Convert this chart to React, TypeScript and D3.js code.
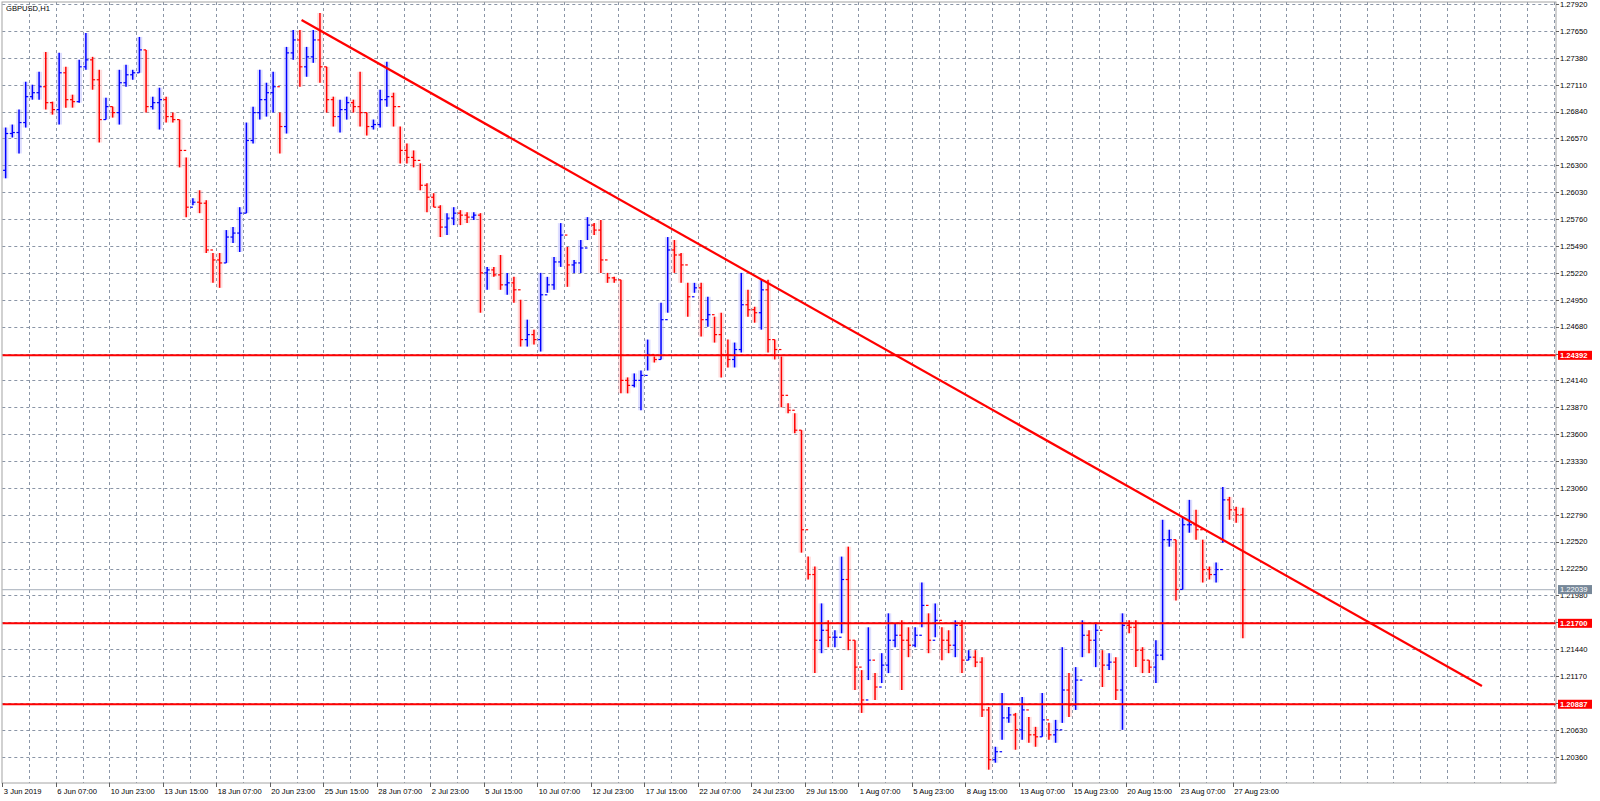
import React from 'react';
import * as d3 from 'd3';

const W = 1600;
const H = 801;
const symbol = 'GBPUSD,H1';

// Price data, aggregated 8 hourly bars per entry
const firstOpen = 1.2625;
const highs = [
  1.2668,1.2671,1.2686,1.2714,1.2711,1.2724,1.2744,1.2694,1.2743,1.2729,
  1.2701,1.2736,1.2763,1.2739,1.2726,1.2698,1.2689,1.2726,1.2731,1.2726,
  1.2759,1.2746,1.2699,1.2708,1.2699,1.2683,1.2676,1.2638,1.2597,1.2605,
  1.2595,1.2542,1.2542,1.2565,1.2568,1.2588,1.2673,1.2689,1.2726,1.2713,
  1.2724,1.2683,1.2749,1.2766,1.2766,1.2749,1.2766,1.2783,1.2729,1.2699,
  1.2696,1.2699,1.2696,1.2724,1.2683,1.2676,1.2706,1.2734,1.2703,1.2669,
  1.2652,1.2645,1.2632,1.2612,1.2602,1.2590,1.2582,1.2588,1.2585,1.2583,
  1.2583,1.2582,1.2528,1.2528,1.2540,1.2522,1.2518,1.2495,1.2475,1.2465,
  1.2522,1.2518,1.2538,1.2572,1.2548,1.2535,1.2555,1.2578,1.2572,1.2575,
  1.2522,1.2518,1.2515,1.2417,1.2421,1.2424,1.2455,1.2438,1.2492,1.2558,
  1.2555,1.2542,1.2512,1.2512,1.2512,1.2498,1.2478,1.2482,1.2455,1.2452,
  1.2522,1.2505,1.2488,1.2515,1.2515,1.2455,1.2438,1.2391,1.2381,1.2364,
  1.2237,1.2227,1.2190,1.2173,1.2163,1.2237,1.2247,1.2153,1.2123,1.2166,
  1.2120,1.2140,1.2180,1.2170,1.2173,1.2166,1.2166,1.2211,1.2180,1.2190,
  1.2166,1.2163,1.2173,1.2173,1.2143,1.2143,1.2136,1.2086,1.2046,1.2100,
  1.2086,1.2080,1.2096,1.2076,1.2066,1.2100,1.2070,1.2073,1.2146,1.2120,
  1.2126,1.2173,1.2163,1.2170,1.2143,1.2140,1.2136,1.2180,1.2173,1.2173,
  1.2146,1.2133,1.2153,1.2274,1.2264,1.2254,1.2277,1.2294,1.2284,1.2254,
  1.2227,1.2231,1.2307,1.2297,1.2287,1.2286,
];
const lows = [
  1.2617,1.2658,1.2642,1.2668,1.2696,1.2696,1.2686,1.2681,1.2671,1.2688,
  1.2688,1.2693,1.2726,1.2706,1.2653,1.2676,1.2678,1.2671,1.2709,1.2716,
  1.2723,1.2683,1.2686,1.2666,1.2673,1.2673,1.2628,1.2578,1.2590,1.2582,
  1.2542,1.2512,1.2507,1.2532,1.2552,1.2543,1.2582,1.2652,1.2676,1.2679,
  1.2683,1.2642,1.2662,1.2736,1.2709,1.2719,1.2733,1.2713,1.2683,1.2669,
  1.2663,1.2676,1.2683,1.2669,1.2660,1.2666,1.2668,1.2689,1.2669,1.2632,
  1.2632,1.2628,1.2605,1.2583,1.2588,1.2558,1.2560,1.2570,1.2570,1.2572,
  1.2575,1.2482,1.2505,1.2518,1.2505,1.2500,1.2492,1.2448,1.2448,1.2450,
  1.2443,1.2502,1.2505,1.2528,1.2508,1.2522,1.2522,1.2555,1.2560,1.2522,
  1.2512,1.2512,1.2401,1.2401,1.2407,1.2384,1.2424,1.2432,1.2435,1.2482,
  1.2522,1.2512,1.2478,1.2502,1.2458,1.2468,1.2452,1.2417,1.2427,1.2427,
  1.2442,1.2478,1.2472,1.2465,1.2442,1.2435,1.2387,1.2381,1.2361,1.2241,
  1.2214,1.2120,1.2140,1.2146,1.2146,1.2160,1.2143,1.2103,1.2080,1.2113,
  1.2093,1.2110,1.2120,1.2146,1.2103,1.2136,1.2146,1.2166,1.2140,1.2156,
  1.2133,1.2140,1.2136,1.2120,1.2133,1.2126,1.2076,1.2023,1.2030,1.2053,
  1.2070,1.2043,1.2053,1.2050,1.2046,1.2056,1.2053,1.2050,1.2070,1.2076,
  1.2083,1.2136,1.2140,1.2126,1.2106,1.2123,1.2093,1.2063,1.2160,1.2126,
  1.2120,1.2120,1.2110,1.2133,1.2247,1.2193,1.2204,1.2261,1.2254,1.2211,
  1.2214,1.2211,1.2251,1.2274,1.2271,1.2155,
];
const closes = [
  1.2662,1.2663,1.2673,1.2699,1.2703,1.2709,1.2693,1.2686,1.2723,1.2696,
  1.2694,1.2729,1.2736,1.2716,1.2676,1.2689,1.2683,1.2713,1.2721,1.2723,
  1.2746,1.2689,1.2693,1.2696,1.2679,1.2676,1.2645,1.2588,1.2593,1.2592,
  1.2545,1.2535,1.2532,1.2558,1.2562,1.2582,1.2655,1.2683,1.2696,1.2703,
  1.2709,1.2669,1.2743,1.2756,1.2729,1.2739,1.2756,1.2729,1.2696,1.2679,
  1.2686,1.2693,1.2689,1.2683,1.2669,1.2671,1.2696,1.2699,1.2689,1.2645,
  1.2638,1.2635,1.2610,1.2598,1.2588,1.2568,1.2577,1.2582,1.2580,1.2578,
  1.2580,1.2522,1.2525,1.2520,1.2510,1.2512,1.2505,1.2455,1.2460,1.2455,
  1.2500,1.2510,1.2533,1.2560,1.2530,1.2532,1.2547,1.2570,1.2565,1.2535,
  1.2517,1.2515,1.2414,1.2409,1.2414,1.2419,1.2440,1.2435,1.2475,1.2545,
  1.2540,1.2530,1.2498,1.2507,1.2475,1.2480,1.2460,1.2440,1.2435,1.2445,
  1.2490,1.2485,1.2482,1.2505,1.2455,1.2445,1.2399,1.2384,1.2364,1.2264,
  1.2219,1.2153,1.2163,1.2156,1.2156,1.2214,1.2153,1.2126,1.2093,1.2133,
  1.2106,1.2128,1.2153,1.2158,1.2153,1.2148,1.2158,1.2188,1.2153,1.2173,
  1.2153,1.2148,1.2168,1.2133,1.2136,1.2131,1.2083,1.2033,1.2041,1.2075,
  1.2078,1.2063,1.2083,1.2058,1.2056,1.2073,1.2058,1.2063,1.2103,1.2088,
  1.2113,1.2158,1.2153,1.2163,1.2128,1.2131,1.2103,1.2168,1.2166,1.2143,
  1.2133,1.2126,1.2138,1.2254,1.2254,1.2204,1.2269,1.2269,1.2264,1.2224,
  1.2219,1.2224,1.2294,1.2284,1.2279,1.22039,
];
const barsPerEntry = 8;

const priceTicks = d3.range(29).map((k) => 1.2036 + 0.0027 * k);
const timeLabels = [
  '3 Jun 2019', '6 Jun 07:00', '10 Jun 23:00', '13 Jun 15:00', '18 Jun 07:00',
  '20 Jun 23:00', '25 Jun 15:00', '28 Jun 07:00', '2 Jul 23:00', '5 Jul 15:00',
  '10 Jul 07:00', '12 Jul 23:00', '17 Jul 15:00', '22 Jul 07:00', '24 Jul 23:00',
  '29 Jul 15:00', '1 Aug 07:00', '5 Aug 23:00', '8 Aug 15:00', '13 Aug 07:00',
  '15 Aug 23:00', '20 Aug 15:00', '23 Aug 07:00', '27 Aug 23:00',
];
const barsPerLabel = 64;
const barsPerGrid = 32;

const levels = [1.24392, 1.217, 1.20887];
const bidPrice = 1.22039;
const trendBars = [358, 1770];
const trendPrices = [1.2776, 1.2107];

const L = 2.3, R = 1556, T = 2, B = 783;
const FONT = '"Liberation Sans", Arial, sans-serif';

export default function App() {
  const x = d3.scaleLinear().domain([0, 1858.6]).range([L, R]);
  const y = d3.scaleLinear().domain([1.20096, 1.27941]).range([B, T]);
  const totalBars = x.domain()[1];

  const vGrid = d3.range(barsPerGrid, totalBars, barsPerGrid).filter((b) => x(b) < R - 1);
  const crisp = (v: number) => Math.round(v) + 0.5;

  const bars = highs.map((h, i) => {
    const o = i === 0 ? firstOpen : closes[i - 1];
    const c = closes[i];
    const l = lows[i];
    const up = c >= o;
    const x0 = x(i * barsPerEntry);
    const x1 = x((i + 1) * barsPerEntry);
    const xc = (x0 + x1) / 2;
    const col = up ? '#0000ff' : '#ff0000';
    const halo = up ? '#a4a4ff' : '#ffa4a4';
    return (
      <g key={i}>
        <rect x={x0 + 0.5} y={y(h)} width={x1 - x0 - 1} height={Math.max(1, y(l) - y(h))} fill={halo} opacity={0.35} />
        <line x1={xc} x2={xc} y1={y(h)} y2={y(l)} stroke={col} strokeWidth={1.5} />
        <line x1={x0 + 0.8} x2={xc} y1={y(o)} y2={y(o)} stroke={col} strokeWidth={1.2} />
        <line x1={xc} x2={x1 - 0.8} y1={y(c)} y2={y(c)} stroke={col} strokeWidth={1.2} />
      </g>
    );
  });

  return (
    <svg width={W} height={H} style={{ position: 'absolute', left: 0, top: 0, background: '#fff' }}
      fontFamily={FONT}>
      <rect x={0} y={0} width={W} height={H} fill="#ffffff" />
      {/* grid */}
      {vGrid.map((b) => (
        <line key={'vg' + b} x1={crisp(x(b))} x2={crisp(x(b))} y1={T} y2={B}
          stroke="#8a95a6" strokeWidth={1} strokeDasharray="3,3" />
      ))}
      {priceTicks.map((p) => (
        <line key={'hg' + p} x1={L} x2={R} y1={crisp(y(p))} y2={crisp(y(p))}
          stroke="#8a95a6" strokeWidth={1} strokeDasharray="3,3" />
      ))}
      {/* bid line */}
      <line x1={L} x2={R} y1={y(bidPrice)} y2={y(bidPrice)} stroke="#b8bfc8" strokeWidth={1.2} />
      {/* price bars */}
      {bars}
      {/* horizontal levels */}
      {levels.map((p) => (
        <line key={'lv' + p} x1={L} x2={R} y1={y(p)} y2={y(p)} stroke="#ff0000" strokeWidth={2} />
      ))}
      {/* trend line */}
      <line x1={x(trendBars[0])} y1={y(trendPrices[0])} x2={x(trendBars[1])} y2={y(trendPrices[1])}
        stroke="#ff0000" strokeWidth={2.2} />
      {/* frame */}
      <rect x={2} y={2} width={R - 2} height={B - 2} fill="none" stroke="#a4a4a4" strokeWidth={1} />
      {/* right axis */}
      {priceTicks.map((p) => (
        <g key={'yt' + p}>
          <line x1={R} x2={R + 3} y1={crisp(y(p))} y2={crisp(y(p))} stroke="#606060" strokeWidth={1} />
          <text x={R + 4} y={y(p) + 2.8} fontSize={7.6} fill="#000">{p.toFixed(5)}</text>
        </g>
      ))}
      {/* bottom axis */}
      {timeLabels.map((t, k) => (
        <g key={'xt' + k}>
          <line x1={crisp(x(k * barsPerLabel))} x2={crisp(x(k * barsPerLabel))} y1={B} y2={B + 4}
            stroke="#606060" strokeWidth={1} />
          <text x={x(k * barsPerLabel) + 1.5} y={794} fontSize={7.6} fill="#000">{t}</text>
        </g>
      ))}
      {/* level labels */}
      {levels.map((p) => (
        <g key={'ll' + p}>
          <rect x={R + 2} y={y(p) - 4.5} width={34} height={9} fill="#ff0000" />
          <text x={R + 4} y={y(p) + 2.8} fontSize={7.6} fontWeight="bold" fill="#fff">{p.toFixed(5)}</text>
        </g>
      ))}
      <g>
        <rect x={R + 2} y={y(bidPrice) - 4.5} width={34} height={9} fill="#778899" />
        <text x={R + 4} y={y(bidPrice) + 2.8} fontSize={7.6} fill="#fff">{bidPrice.toFixed(5)}</text>
      </g>
      {/* title */}
      <text x={6} y={11} fontSize={7.6} fill="#000">{symbol}</text>
    </svg>
  );
}
